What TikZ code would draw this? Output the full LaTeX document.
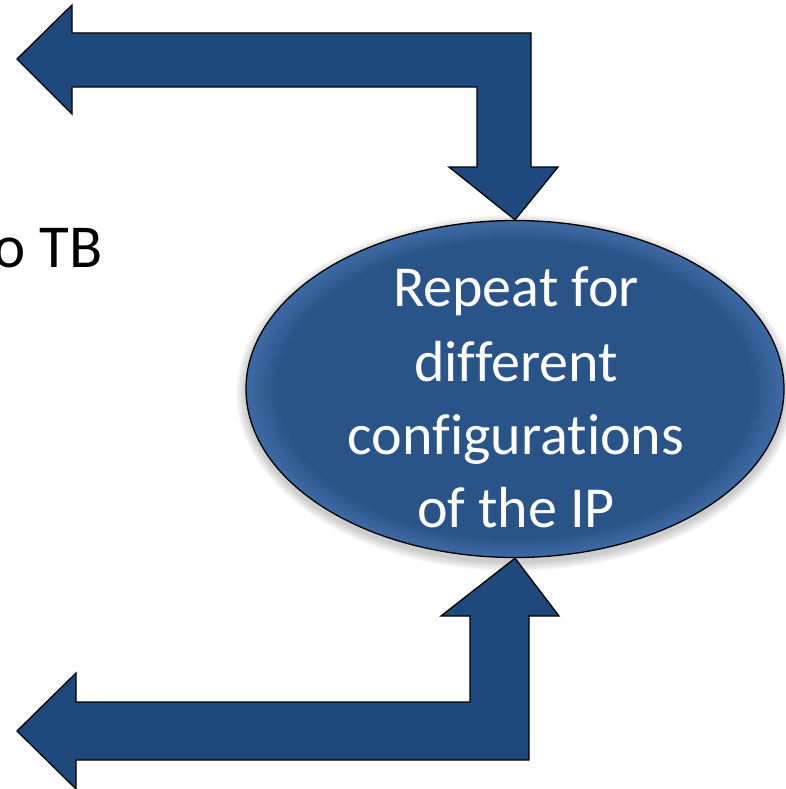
\documentclass[tikz,border=0pt]{standalone}
\usepackage{fontspec}
\setmainfont[Ligatures={NoCommon}]{Carlito}
\usetikzlibrary{shapes.geometric}
\definecolor{arrowblue}{HTML}{1F497D}
\definecolor{ellblue}{HTML}{2A5387}
\definecolor{ellrim}{HTML}{3C68A2}
\pgfdeclareradialshading{ellbevel}{\pgfpoint{0bp}{0bp}}{color(0bp)=(ellblue); color(22bp)=(ellblue); color(24.6bp)=(ellrim); color(25bp)=(ellrim); color(50bp)=(ellrim)}
\begin{document}
\begin{tikzpicture}[x=1pt,y=-1pt,
  blockarrow/.style={fill=arrowblue, draw=black, line width=1.3pt, line join=miter},
  elltext/.style={anchor=base, text=white, inner sep=0pt, font=\fontsize{58}{70}\selectfont},
  ellshape/.style={ellipse, draw=black, line width=1.3pt, minimum width=538pt, minimum height=337pt, inner sep=0pt, shade, shading=ellbevel}]
\useasboundingbox (0,0) rectangle (786,789);
\clip (0,0) rectangle (786,789);
% soft shadow
\foreach \i in {1,...,6}
  \fill[black, opacity=0.035] (515,393) ellipse [x radius={269+\i*1.6}, y radius={168.5+\i*1.6}];
% ellipse
\node[ellshape] (ell) at (515,389) {};
\node[elltext] (l1) at (516,306) {Repeat for};
\node[elltext] (l2) at (516,381) {different};
\node[elltext] (l3) at (516,454) {configurations};
\node[elltext] (l4) at (516,527) {of the IP};
% partial text on the left
\node[anchor=base east, inner sep=0pt, font=\fontsize{61}{70}\selectfont] (tb) at (103,267) {o TB};
% top bent arrow
\draw[blockarrow] (17,59) -- (72,5) -- (72,33) -- (531,33) -- (531,167) -- (558,167)
  -- (ell.north) -- (449,167) -- (477,167) -- (477,87) -- (72,87) -- (72,114) -- cycle;
% bottom bent arrow
\draw[blockarrow] (ell.south) -- (559,616) -- (529,616) -- (529,760) -- (76,760) -- (76,789)
  -- (17,731) -- (76,673) -- (76,702) -- (470,702) -- (470,616) -- (441,616) -- cycle;
\end{tikzpicture}
\end{document}
